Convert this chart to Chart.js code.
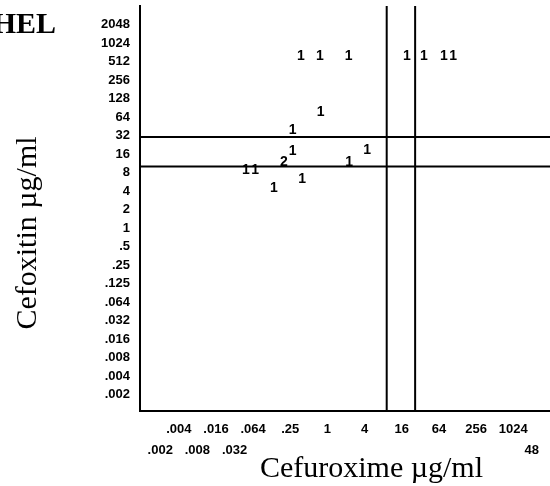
<!DOCTYPE html>
<html>
<head>
<meta charset="utf-8">
<script src="https://cdn.jsdelivr.net/npm/chart.js@4.4.1/dist/chart.umd.min.js"></script>
<style>
  html, body { margin: 0; padding: 0; background: #fff; }
  canvas { display: block; }
</style>
</head>
<body>
<canvas id="c" width="550" height="486" style="width:550px;height:486px"></canvas>
<script>
// ---- data (log2 of MIC, µg/ml) ----
const cefuroximeLog2 = [-1.43, -0.40, 1.14, 4.28, 5.19, 6.27, 6.77, -0.37, -1.87, -1.87, 2.14, -2.34, 1.17, -4.39, -3.89, -1.36, -2.88];
const cefoxitinLog2  = [ 9.31,  9.31, 9.31, 9.31, 9.31, 9.31, 9.31,  6.30,  5.31,  4.19, 4.23,  3.59, 3.59,  3.15,  3.15,  2.66,  2.16];
const isolateCounts  = ['1', '1', '1', '1', '1', '1', '1', '1', '1', '1', '1', '2', '1', '1', '1', '1', '1'];

// breakpoint lines (log2 units)
const cefuroximeBreaks = [3.19, 4.72];
const cefoxitinBreaks  = [3.34, 4.93];

// axis ranges (log2 units)
const xRange = [-10.09, 11.98];
const yRange = [-9.88, 12.01];

// tick positions and labels
const xTickPos = [-9, -8, -7, -6, -5, -4, -3, -2, -1, 0, 1, 2, 3, 4, 5, 6, 7, 8, 9, 10, 11];
const xTickUpper = ['', '.004', '', '.016', '', '.064', '', '.25', '', '1', '', '4', '', '16', '', '64', '', '256', '', '1024', ''];
const xTickLower = ['.002', '', '.008', '', '.032', '', '', '', '', '', '', '', '', '', '', '', '', '', '', '', '48'];
const yTickPos = [-9, -8, -7, -6, -5, -4, -3, -2, -1, 0, 1, 2, 3, 4, 5, 6, 7, 8, 9, 10, 11];
const yTickLabels = ['.002', '.004', '.008', '.016', '.032', '.064', '.125', '.25', '.5', '1', '2', '4', '8', '16', '32', '64', '128', '256', '512', '1024', '2048'];

const xTitle = 'Cefuroxime µg/ml';
const yTitle = 'Cefoxitin µg/ml';
const panelLabel = 'HEL';

// ---- build datasets ----
const points = cefuroximeLog2.map((x, i) => ({ x: x, y: cefoxitinLog2[i] }));
const datasets = [{
  label: 'isolates',
  data: points,
  pointRadius: 0,
  pointHoverRadius: 0,
  showLine: false
}];
cefoxitinBreaks.forEach(b => datasets.push({
  type: 'line', data: [{ x: xRange[0], y: b }, { x: xRange[1], y: b }],
  borderColor: '#000', borderWidth: 2, pointRadius: 0, fill: false, tension: 0
}));
cefuroximeBreaks.forEach(b => datasets.push({
  type: 'line', data: [{ x: b, y: yRange[0] }, { x: b, y: yRange[1] }],
  borderColor: '#000', borderWidth: 2, pointRadius: 0, fill: false, tension: 0
}));

const countLabels = {
  id: 'countLabels',
  afterDatasetsDraw(chart) {
    const ctx = chart.ctx;
    const meta = chart.getDatasetMeta(0);
    ctx.save();
    ctx.fillStyle = '#000';
    ctx.font = 'bold 14px "Liberation Sans", Arial, sans-serif';
    ctx.textAlign = 'center';
    ctx.textBaseline = 'middle';
    meta.data.forEach((el, i) => ctx.fillText(isolateCounts[i], el.x, el.y));
    ctx.restore();
  }
};

const titles = {
  id: 'titles',
  afterDraw(chart) {
    const ctx = chart.ctx;
    ctx.save();
    ctx.fillStyle = '#000';
    ctx.textBaseline = 'alphabetic';
    // x title
    ctx.font = '30px "Liberation Serif", "Times New Roman", serif';
    ctx.textAlign = 'center';
    ctx.fillText(xTitle, 371.5, 477);
    // y title
    ctx.save();
    ctx.translate(36, 233);
    ctx.rotate(-Math.PI / 2);
    ctx.font = '30px "Liberation Serif", "Times New Roman", serif';
    ctx.fillText(yTitle, 0, 0);
    ctx.restore();
    // panel label
    ctx.font = 'bold 30px "Liberation Serif", "Times New Roman", serif';
    ctx.textAlign = 'right';
    ctx.fillText(panelLabel, 56, 33);
    ctx.restore();
  }
};

const tickFont = { family: '"Liberation Sans", Arial, sans-serif', size: 13, weight: 'bold' };

new Chart(document.getElementById('c'), {
  type: 'scatter',
  data: { datasets: datasets },
  options: {
    responsive: false,
    animation: false,
    events: [],
    layout: { padding: { top: 6, right: 0, bottom: 0, left: 0 } },
    plugins: { legend: { display: false }, tooltip: { enabled: false }, title: { display: false } },
    scales: {
      x: {
        type: 'linear',
        min: xRange[0], max: xRange[1],
        afterBuildTicks: s => { s.ticks = xTickPos.map(v => ({ value: v })); },
        afterFit: s => { s.height = 75; s.paddingLeft = 0; s.paddingRight = 0; },
        grid: { display: false, drawTicks: false, tickLength: 0 },
        border: { display: true, color: '#000', width: 2 },
        ticks: {
          autoSkip: false, maxRotation: 0, minRotation: 0,
          padding: 8, color: '#000',
          font: Object.assign({}, tickFont, { lineHeight: 21 / 13 }),
          callback: (v, i) => [xTickUpper[i], xTickLower[i]]
        }
      },
      y: {
        type: 'linear',
        min: yRange[0], max: yRange[1],
        afterBuildTicks: s => { s.ticks = yTickPos.map(v => ({ value: v })); },
        afterFit: s => { s.width = 140; s.paddingTop = 0; s.paddingBottom = 0; },
        grid: { display: false, drawTicks: false, tickLength: 0 },
        border: { display: true, color: '#000', width: 2 },
        ticks: {
          autoSkip: false, padding: 10, color: '#000',
          font: tickFont,
          callback: (v, i) => yTickLabels[i]
        }
      }
    }
  },
  plugins: [countLabels, titles]
});
</script>
</body>
</html>
